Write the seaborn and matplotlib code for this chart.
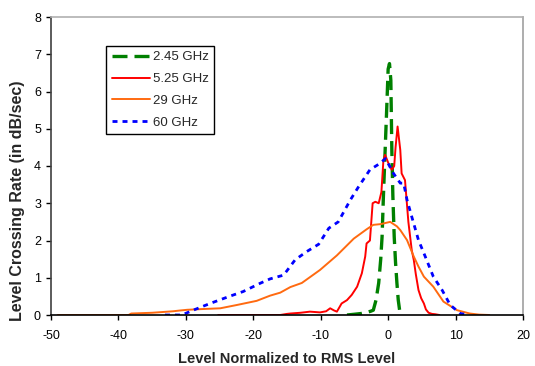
import pandas as pd
import matplotlib
matplotlib.use("Agg")
import matplotlib.pyplot as plt
import seaborn as sns

# Level crossing rate curves
green_x = [-6.1, -5.0, -4.0, -3.2, -2.6, -2.2, -1.8, -1.4, -1.1, -0.9, -0.7, -0.45, -0.2,
           0.0, 0.2, 0.4, 0.55, 0.7, 0.9, 1.1, 1.3, 1.5, 1.7, 1.9, 2.1]
green_y = [0.0, 0.02, 0.04, 0.07, 0.1, 0.13, 0.4, 0.86, 1.5, 2.1, 3.2, 4.4, 5.6,
           6.6, 6.75, 6.3, 4.4, 3.2, 2.1, 1.4, 0.86, 0.4, 0.13, 0.05, 0.0]

red_x = [-25.2, -16, -15, -14.5, -13, -11.6, -10.1, -9.2, -8.6, -8.0, -7.6, -6.9, -6.1,
         -5.4, -4.6, -3.9, -3.4, -3.2, -2.7, -2.3, -1.9, -1.4, -1.0, -0.7, -0.45, 0.05,
         0.55, 0.9, 1.1, 1.4, 1.8, 2.0, 2.5, 3.0, 3.5, 3.8, 4.1, 4.5, 4.9, 5.3, 5.6, 6.0,
         6.5, 7.0, 7.6]
red_y = [0.0, 0.0, 0.03, 0.04, 0.06, 0.09, 0.07, 0.1, 0.18, 0.12, 0.09, 0.31, 0.4,
         0.54, 0.76, 1.12, 1.57, 1.92, 2.0, 3.0, 3.04, 3.0, 3.3, 4.16, 4.3, 4.07,
         3.9, 4.0, 4.5, 5.06, 4.43, 3.8, 3.62, 2.5, 1.74, 1.48, 1.1, 0.67, 0.45, 0.31, 0.15, 0.06,
         0.03, 0.02, 0.0]

orange_x = [-49, -38.5, -38.1, -35, -31.9, -30.9, -29.8, -27.5, -24.9, -22.4, -19.5, -17.5,
            -16.0, -14.5, -12.8, -10.1, -7.6, -5.1, -3.2, -2.2, -1.1, 0.3, 1.3, 1.8, 2.8,
            3.8, 4.5, 5.3, 6.7, 8.2, 10.2, 12.1, 13.5, 15]
orange_y = [0.0, 0.0, 0.04, 0.06, 0.1, 0.12, 0.14, 0.16, 0.18, 0.27, 0.38, 0.52,
            0.6, 0.75, 0.86, 1.21, 1.6, 2.05, 2.3, 2.42, 2.44, 2.5, 2.38, 2.28, 2.01,
            1.57, 1.3, 1.03, 0.76, 0.36, 0.13, 0.04, 0.01, 0.0]

blue_x = [-33.1, -30.6, -28.9, -26.4, -23.7, -21.5, -19.0, -17.5, -15.5, -13.8, -12.1,
          -10.3, -8.8, -7.4, -5.6, -4.4, -2.7, -1.2, -0.4, 0.8, 1.8, 2.3, 2.8, 3.5, 4.5,
          5.5, 6.7, 8.0, 9.2, 10.7, 12]
blue_y = [0.0, 0.0, 0.13, 0.31, 0.49, 0.63, 0.85, 0.97, 1.07, 1.48, 1.7,
          1.9, 2.33, 2.5, 3.09, 3.44, 3.9, 4.07, 4.2, 3.8, 3.54, 3.54, 3.09, 2.64, 2.01,
          1.57, 1.03, 0.67, 0.27, 0.04, 0.0]

labels = ["2.45 GHz", "5.25 GHz", "29 GHz", "60 GHz"]

sns.set_style("white")
plt.rcParams['font.family'] = ['Liberation Sans', 'DejaVu Sans']
plt.rcParams['axes.unicode_minus'] = False

fig = plt.figure(figsize=(5.35, 3.66), dpi=100)
ax = fig.add_axes([51 / 535, 51 / 366, 472 / 535, 298 / 366])

series = [
    (green_x, green_y, "#008000", 2.4, (0, (4.5, 2.1))),
    (red_x, red_y, "#FF0000", 1.4, "-"),
    (orange_x, orange_y, "#FF6A10", 1.4, "-"),
    (blue_x, blue_y, "#0000FF", 2.0, (0, (1.8, 1.8))),
]
for (xs, ys, color, lw, ls), lab in zip(series, labels):
    sns.lineplot(x=xs, y=ys, ax=ax, color=color, linewidth=lw, linestyle=ls,
                 label=lab, sort=False, estimator=None)

ax.set_xlim(-50, 20)
ax.set_ylim(0, 8)
ax.set_xticks(range(-50, 21, 10))
ax.set_yticks(range(0, 9))
ax.tick_params(axis='both', which='both', direction='out', length=3.6, width=1,
               labelsize=9, colors='black')
ax.tick_params(axis='x', pad=7, bottom=True)
ax.tick_params(axis='y', pad=3.6, left=True)

ax.set_xlabel("Level Normalized to RMS Level", fontsize=10.5, fontweight='bold')
ax.xaxis.set_label_coords(0.5, -0.125)
ax.set_ylabel("Level Crossing Rate (in dB/sec)", fontsize=11.5, fontweight='bold')
ax.yaxis.set_label_coords(-0.055, 0.383)

ax.spines['top'].set_color('#B0B0B0')
ax.spines['right'].set_color('#A0A0A0')
ax.spines['left'].set_color('#404040')
ax.spines['bottom'].set_color('black')
for s in ax.spines.values():
    s.set_linewidth(1.2)

leg = ax.legend(loc='upper left', bbox_to_anchor=(0.117, 0.903), fontsize=9.5,
                frameon=True, fancybox=False, framealpha=1, edgecolor='black',
                handlelength=2.9, handletextpad=0.25, labelspacing=0.72,
                borderpad=0.4, borderaxespad=0)
leg.get_frame().set_linewidth(1.0)

fig.savefig("out.png", dpi=100)
